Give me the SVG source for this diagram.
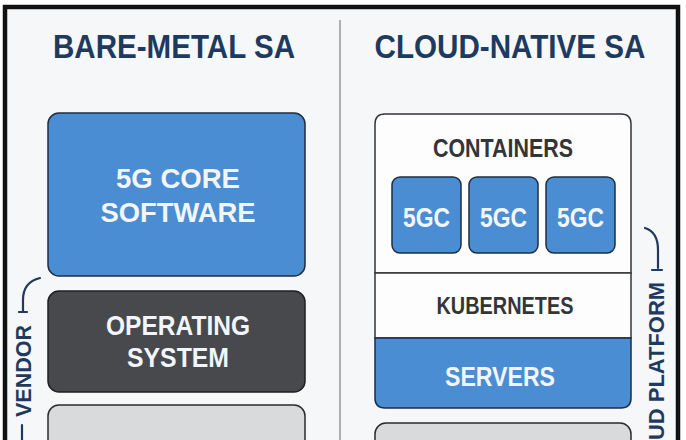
<svg xmlns="http://www.w3.org/2000/svg" width="686" height="440" viewBox="0 0 686 440">
<style>
  text { font-family: "Liberation Sans", Arial, sans-serif; font-weight: bold; text-anchor: middle; }
  .title { font-size: 34px; fill: #1f3a5f; }
  .blue { fill: #4a8dd3; stroke: #1e2e44; stroke-width: 1.5; }
  .dark { fill: #47494c; stroke: #1e1f21; stroke-width: 1.5; }
  .gray { fill: #d9dadc; stroke: #2a2b2d; stroke-width: 1.5; }
  .wt { fill: #f2f6fb; }
  .dt { fill: #333537; }
  .side { font-size: 22px; fill: #1f3a5f; }
  .brace { fill: none; stroke: #1f3a5f; stroke-width: 2.2; stroke-linecap: round; }
</style>
<rect x="0" y="0" width="686" height="440" fill="#ffffff"/>
<rect x="5" y="7" width="673" height="460" fill="#f6f7f9" stroke="#111111" stroke-width="4.5"/>
<line x1="340" y1="20" x2="340" y2="440" stroke="#7d7f82" stroke-width="1.2"/>

<text class="title" x="174" y="58" textLength="242" lengthAdjust="spacingAndGlyphs">BARE-METAL SA</text>
<text class="title" x="510" y="58" textLength="271" lengthAdjust="spacingAndGlyphs">CLOUD-NATIVE SA</text>

<g id="core-software">
  <rect class="blue" x="48" y="113" width="257" height="163" rx="11"/>
  <text class="wt" x="178" y="188" font-size="28" textLength="124" lengthAdjust="spacingAndGlyphs">5G CORE</text>
  <text class="wt" x="178" y="222" font-size="28" textLength="155" lengthAdjust="spacingAndGlyphs">SOFTWARE</text>
</g>
<g id="operating-system">
  <rect class="dark" x="48" y="291" width="257" height="101" rx="11"/>
  <text class="wt" x="178" y="335" font-size="28" textLength="144" lengthAdjust="spacingAndGlyphs">OPERATING</text>
  <text class="wt" x="178" y="367" font-size="28" textLength="102" lengthAdjust="spacingAndGlyphs">SYSTEM</text>
</g>
<g id="hardware-left">
  <rect class="gray" x="48" y="405" width="257" height="60" rx="11"/>
</g>

<g id="cloud-stack">
  <path d="M375,273 V124 Q375,114 385,114 H621 Q631,114 631,124 V273 Z" fill="#fdfdfd" stroke="#333537" stroke-width="1.5"/>
  <rect x="375" y="273" width="256" height="65" fill="#fdfdfd" stroke="#333537" stroke-width="1.5"/>
  <text class="dt" x="503" y="157" font-size="26" textLength="140" lengthAdjust="spacingAndGlyphs">CONTAINERS</text>
  <text class="dt" x="505" y="314" font-size="24" textLength="137" lengthAdjust="spacingAndGlyphs">KUBERNETES</text>
</g>
<g id="servers">
  <path class="blue" d="M375,338 H631 V398 Q631,408 621,408 H385 Q375,408 375,398 Z"/>
  <text class="wt" x="500" y="386" font-size="27" textLength="110" lengthAdjust="spacingAndGlyphs">SERVERS</text>
</g>
<g id="gc1">
  <rect class="blue" x="392" y="177" width="69" height="76" rx="8"/>
  <text class="wt" x="426.5" y="227" font-size="27" textLength="47" lengthAdjust="spacingAndGlyphs">5GC</text>
</g>
<g id="gc2">
  <rect class="blue" x="469" y="177" width="69" height="76" rx="8"/>
  <text class="wt" x="503.5" y="227" font-size="27" textLength="47" lengthAdjust="spacingAndGlyphs">5GC</text>
</g>
<g id="gc3">
  <rect class="blue" x="546" y="177" width="69" height="76" rx="8"/>
  <text class="wt" x="580.5" y="227" font-size="27" textLength="47" lengthAdjust="spacingAndGlyphs">5GC</text>
</g>
<g id="hardware-right">
  <rect class="gray" x="375" y="423" width="256" height="60" rx="11"/>
</g>

<g id="connectors">
  <path class="brace" d="M40,278 Q23,282 23,300 V312 M19,312 H27"/>
  <path class="brace" d="M22,425 V440"/>
  <path class="brace" d="M645,228 Q658,232 658,250 V268 M652,270 H662"/>
</g>
<g id="labels">
  <text class="side" transform="translate(31,371) rotate(-90)" textLength="92" lengthAdjust="spacingAndGlyphs">VENDOR</text>
  <text class="side" transform="translate(664,282) rotate(-90)" style="text-anchor:end" font-size="21" textLength="158" lengthAdjust="spacingAndGlyphs">UD PLATFORM</text>
</g>
</svg>
